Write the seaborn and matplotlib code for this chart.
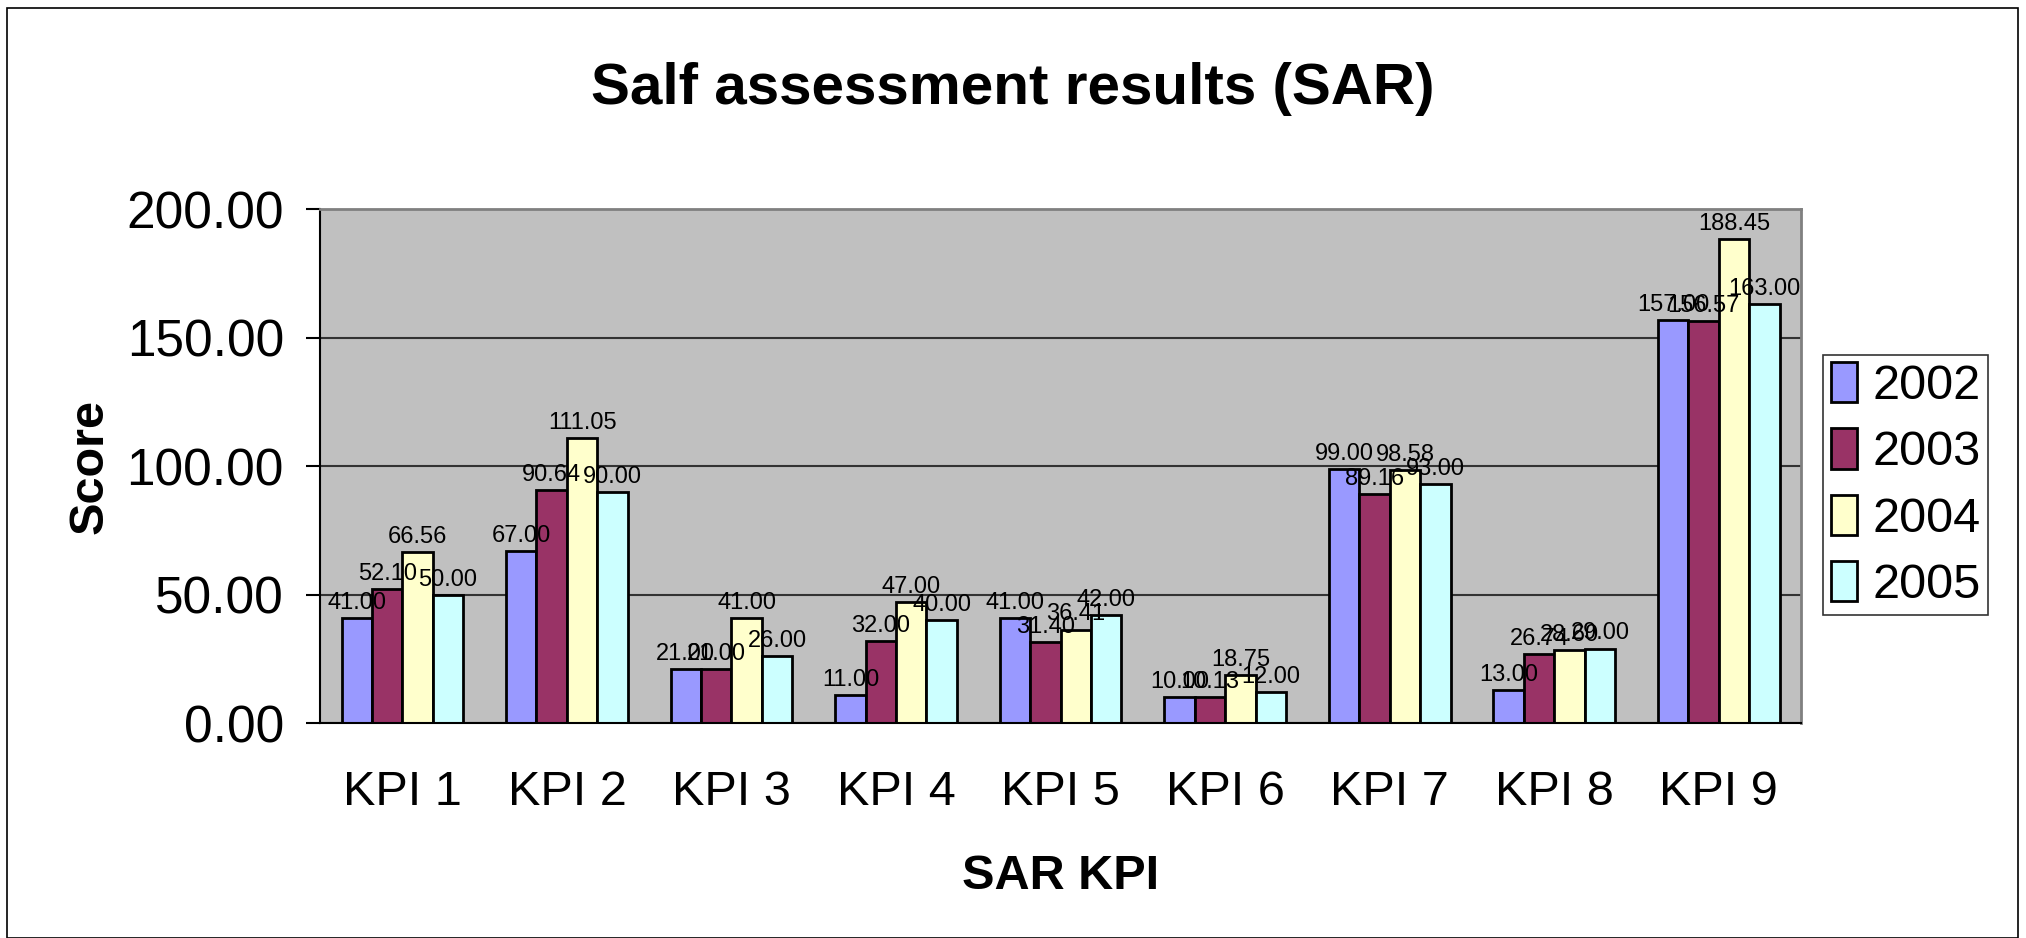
import matplotlib
matplotlib.use("Agg")
import matplotlib.pyplot as plt
import seaborn as sns
import pandas as pd
from matplotlib.patches import Rectangle

# data
kpis = ["KPI 1", "KPI 2", "KPI 3", "KPI 4", "KPI 5", "KPI 6", "KPI 7", "KPI 8", "KPI 9"]
years = ["2002", "2003", "2004", "2005"]
s2002 = [41.00, 67.00, 21.00, 11.00, 41.00, 10.00, 99.00, 13.00, 157.00]
s2003 = [52.10, 90.64, 21.00, 32.00, 31.40, 10.13, 89.16, 26.74, 156.57]
s2004 = [66.56, 111.05, 41.00, 47.00, 36.41, 18.75, 98.58, 28.60, 188.45]
s2005 = [50.00, 90.00, 26.00, 40.00, 42.00, 12.00, 93.00, 29.00, 163.00]
colors = ["#9999FF", "#993366", "#FFFFCC", "#CCFFFF"]

rows = []
for yr, vals in zip(years, [s2002, s2003, s2004, s2005]):
    for k, v in zip(kpis, vals):
        rows.append((k, yr, v))
df = pd.DataFrame(rows, columns=["kpi", "year", "score"])

sns.set_style("white")
plt.rcParams["font.family"] = ["Liberation Sans", "DejaVu Sans"]
plt.rcParams["text.color"] = "black"
plt.rcParams["xtick.color"] = "black"
plt.rcParams["ytick.color"] = "black"
plt.rcParams["axes.labelcolor"] = "black"

fig = plt.figure(figsize=(20.26, 9.38), dpi=100)
ax = fig.add_axes([0.158, 0.229, 0.731, 0.548])

sns.barplot(data=df, x="kpi", y="score", hue="year", order=kpis, hue_order=years,
            palette=dict(zip(years, colors)), width=0.74, edgecolor="black",
            linewidth=2, saturation=1, errorbar=None, ax=ax)

for c in ax.containers:
    ax.bar_label(c, fmt="%.2f", padding=3, fontsize=17, color="black")

ax.set_facecolor("#C0C0C0")
ax.set_ylim(0, 200)
ax.set_xlim(-0.5, 8.5)
ax.set_yticks([0, 50, 100, 150, 200])
ax.set_yticklabels(["%.2f" % t for t in [0, 50, 100, 150, 200]], fontsize=37)
ax.yaxis.grid(True, color="#333333", linewidth=1.5)
ax.set_axisbelow(True)

# category labels at centres, tick marks between groups
ax.set_xticks(range(len(kpis)))
ax.set_xticklabels(kpis, fontsize=35)
ax.set_xticks([i - 0.5 for i in range(len(kpis) + 1)], minor=True)
ax.tick_params(axis="x", which="major", length=0, pad=34)
ax.tick_params(axis="x", which="minor", length=15, width=1.5, color="black", direction="out")
ax.tick_params(axis="y", length=10, width=1.5, color="black", direction="out", pad=16, left=True)

for s in ["top", "right"]:
    ax.spines[s].set_color("#808080")
    ax.spines[s].set_linewidth(2)
ax.spines["left"].set_color("black")
ax.spines["bottom"].set_color("black")
ax.spines["left"].set_linewidth(1.5)
ax.spines["bottom"].set_linewidth(1.5)

ax.set_xlabel("SAR KPI", fontsize=35, fontweight="bold", labelpad=28)
ax.set_ylabel("Score", fontsize=35, fontweight="bold", labelpad=10)

fig.text(0.5, 0.905, "Salf assessment results (SAR)", ha="center", va="center",
         fontsize=42, fontweight="bold")

ax.legend_.remove()
handles = [Rectangle((0, 0), 1, 1, facecolor=c, edgecolor="black", linewidth=2) for c in colors]
leg = fig.legend(handles, years, loc="upper left", bbox_to_anchor=(0.9, 0.622),
                 fontsize=35, frameon=True, fancybox=False, edgecolor="black",
                 handlelength=0.55, handleheight=0.9, handletextpad=0.3,
                 labelspacing=0.4, borderpad=0.15, borderaxespad=0)
leg.get_frame().set_linewidth(1.2)

# outer chart border
fig.patches.append(Rectangle((0.0035, 0.0), 0.9925, 0.992, transform=fig.transFigure,
                             fill=False, edgecolor="black", linewidth=1.2))

fig.savefig("out.png", dpi=100)
